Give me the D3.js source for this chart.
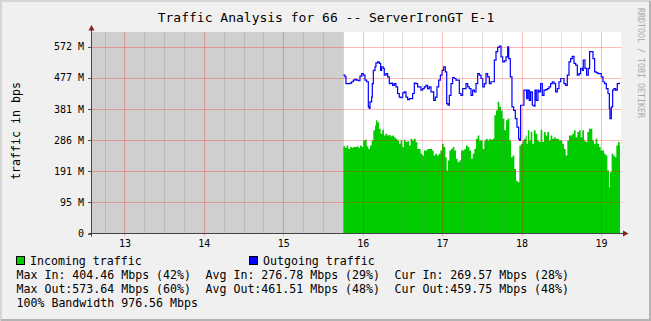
<!DOCTYPE html>
<html><head><meta charset="utf-8">
<script src="https://cdn.jsdelivr.net/npm/d3@7"></script>
<style>html,body{margin:0;padding:0;background:#f0f0f0;}svg{display:block;}</style>
</head><body>
<script>
const title = "Traffic Analysis for 66 -- ServerIronGT E-1";
const yAxisTitle = "traffic in bps";
const watermark = "RRDTOOL / TOBI OETIKER";
const xTicks = [13, 14, 15, 16, 17, 18, 19];
const yTickValues = [0, 95.367, 190.735, 286.102, 381.470, 476.837, 572.205];
const yTickLabels = ["0", "95 M", "191 M", "286 M", "381 M", "477 M", "572 M"];
const dataStart = 15.756, dataEnd = 19.241;
const outTimes = [15.756,15.777,15.790,15.819,15.840,15.861,15.882,15.903,15.924,15.945,15.966,15.987,16.008,16.029,16.050,16.071,16.083,16.092,16.113,16.121,16.134,16.155,16.167,16.189,16.209,16.226,16.239,16.260,16.272,16.293,16.314,16.335,16.356,16.377,16.398,16.419,16.440,16.461,16.482,16.503,16.524,16.545,16.566,16.587,16.608,16.629,16.650,16.671,16.692,16.713,16.734,16.755,16.776,16.797,16.818,16.839,16.860,16.894,16.915,16.936,16.957,16.978,16.999,17.020,17.041,17.058,17.074,17.091,17.112,17.133,17.154,17.175,17.196,17.217,17.238,17.259,17.280,17.301,17.322,17.343,17.364,17.385,17.406,17.427,17.448,17.469,17.490,17.511,17.532,17.553,17.574,17.595,17.616,17.637,17.658,17.679,17.700,17.721,17.742,17.763,17.784,17.805,17.826,17.839,17.859,17.880,17.901,17.922,17.943,17.964,17.977,17.989,18.006,18.031,18.052,18.065,18.081,18.098,18.115,18.136,18.157,18.170,18.186,18.207,18.220,18.241,18.262,18.283,18.304,18.325,18.346,18.367,18.388,18.409,18.430,18.451,18.472,18.493,18.514,18.535,18.556,18.577,18.598,18.619,18.640,18.661,18.682,18.703,18.724,18.745,18.766,18.778,18.799,18.820,18.841,18.858,18.879,18.900,18.921,18.942,18.963,18.984,19.005,19.026,19.047,19.068,19.089,19.106,19.114,19.131,19.148,19.164,19.185,19.206,19.227];
const outValues = [485,480,459,459,461,465,470,472,470,468,482,490,485,470,465,388,383,403,418,459,500,511,523,526,521,500,511,506,485,490,480,459,461,454,459,449,429,418,416,431,434,418,410,413,413,429,461,459,449,449,439,444,449,454,444,449,434,408,418,449,470,485,500,511,495,398,393,423,459,478,475,470,470,429,423,444,444,459,449,444,423,439,434,459,490,485,475,449,459,490,480,459,465,465,531,557,570,574,541,526,529,541,572,536,480,388,377,352,326,290,285,393,393,439,439,413,439,408,434,393,390,439,408,439,434,459,423,439,441,444,449,459,465,459,434,444,465,475,475,459,454,485,526,536,543,521,516,485,490,506,500,531,506,485,506,557,557,536,495,493,490,490,480,465,459,444,429,383,352,388,439,444,439,459,460];
const inTimes = [15.756,15.777,15.798,15.819,15.840,15.861,15.882,15.903,15.924,15.945,15.966,15.987,16.008,16.029,16.050,16.071,16.092,16.113,16.134,16.155,16.167,16.184,16.205,16.226,16.247,16.268,16.289,16.310,16.331,16.352,16.373,16.394,16.415,16.436,16.457,16.478,16.499,16.520,16.541,16.562,16.583,16.604,16.625,16.646,16.667,16.688,16.709,16.730,16.751,16.772,16.793,16.814,16.835,16.856,16.873,16.894,16.915,16.936,16.957,16.978,16.999,17.020,17.041,17.058,17.074,17.091,17.112,17.133,17.154,17.175,17.196,17.217,17.238,17.259,17.280,17.301,17.322,17.343,17.364,17.385,17.406,17.427,17.448,17.469,17.490,17.511,17.532,17.553,17.574,17.595,17.616,17.637,17.658,17.679,17.700,17.721,17.742,17.763,17.784,17.805,17.826,17.847,17.868,17.889,17.910,17.931,17.952,17.973,17.994,18.015,18.031,18.052,18.065,18.081,18.098,18.115,18.136,18.157,18.178,18.199,18.220,18.241,18.262,18.283,18.304,18.325,18.346,18.367,18.388,18.409,18.430,18.451,18.472,18.493,18.514,18.535,18.556,18.577,18.598,18.619,18.640,18.661,18.682,18.703,18.724,18.745,18.766,18.787,18.808,18.829,18.850,18.871,18.892,18.913,18.934,18.955,18.976,18.997,19.018,19.039,19.060,19.081,19.102,19.114,19.135,19.156,19.173,19.194,19.215,19.236];
const inValues = [267,263,270,259,265,263,265,265,267,263,270,265,285,287,267,259,270,285,316,331,347,341,321,306,318,300,306,300,302,298,300,295,290,285,275,285,265,287,280,283,270,290,285,290,280,259,259,244,239,254,254,259,259,259,254,239,244,239,244,254,275,265,234,193,224,254,259,265,254,229,218,224,254,254,259,270,265,254,229,244,259,290,300,285,285,259,285,290,285,290,287,290,362,377,404,388,377,352,316,347,352,285,234,239,198,162,157,270,275,285,290,300,275,316,285,311,275,316,306,285,280,318,280,311,300,311,285,300,290,295,290,290,285,285,275,259,239,285,300,300,306,316,295,311,316,295,316,285,280,311,321,321,285,275,290,275,265,254,254,244,239,193,142,188,244,239,234,270,280,270];
const legendItems = [{label:"Incoming traffic", color:"#00cc00"}, {label:"Outgoing traffic", color:"#0000ff"}];
const statRows = [
  ["Max In: 404.46 Mbps (42%)", "Avg In: 276.78 Mbps (29%)", "Cur In: 269.57 Mbps (28%)"],
  ["Max Out:573.64 Mbps (60%)", "Avg Out:461.51 Mbps (48%)", "Cur Out:459.75 Mbps (48%)"],
  ["100% Bandwidth 976.56 Mbps"]
];

const W = 651, H = 321;
const mono = "'DejaVu Sans Mono', 'Liberation Mono', monospace";
const svg = d3.select("body").append("svg").attr("width", W).attr("height", H);
svg.append("rect").attr("width", W).attr("height", H).attr("fill", "#f0f0f0");
// frame
svg.append("path").attr("d", `M1,${H} V1 H${W}`).attr("stroke", "#d6d6d6").attr("stroke-width", 2).attr("fill", "none");
svg.append("path").attr("d", `M1,${H-1} H${W-1} V1`).attr("stroke", "#b4b4b4").attr("stroke-width", 2).attr("fill", "none");

const x = d3.scaleLinear().domain([12.585, 19.253]).range([91.5, 621]);
const y = d3.scaleLinear().domain([0, 617.4]).range([233.5, 32]);
const [px0, px1] = x.range(), [py0, py1] = y.range();

svg.append("rect").attr("x", px0).attr("y", py1).attr("width", px1 - px0).attr("height", py0 - py1).attr("fill", "#ffffff");
svg.append("rect").attr("x", px0).attr("y", py1).attr("width", x(dataStart) - px0).attr("height", py0 - py1).attr("fill", "#cfcfcf");

const inData = inTimes.map((t, i) => [t, inValues[i]]).concat([[dataEnd, inValues[inValues.length - 1]]]);
const outData = outTimes.map((t, i) => [t, outValues[i]]).concat([[dataEnd, outValues[outValues.length - 1]]]);

svg.append("path").datum(inData)
  .attr("d", d3.area().curve(d3.curveStepAfter).x(d => x(d[0])).y0(y(0)).y1(d => y(d[1])))
  .attr("fill", "#00cc00");
svg.append("path").datum(outData)
  .attr("d", d3.line().curve(d3.curveStepAfter).x(d => x(d[0])).y(d => y(d[1])))
  .attr("fill", "none").attr("stroke", "#0000ff").attr("stroke-width", 1.2);

// minor vertical grid
const minor = d3.range(12.75, 19.25, 0.25).filter(v => Math.abs(v - Math.round(v)) > 0.01);
svg.append("g").selectAll("line").data(minor).join("line")
  .attr("x1", d => Math.round(x(d)) + 0.5).attr("x2", d => Math.round(x(d)) + 0.5)
  .attr("y1", py1).attr("y2", py0)
  .attr("stroke", "rgba(128,128,128,0.25)").attr("stroke-width", 1);
// major vertical grid
svg.append("g").selectAll("line").data(xTicks).join("line")
  .attr("x1", d => Math.round(x(d)) + 0.5).attr("x2", d => Math.round(x(d)) + 0.5)
  .attr("y1", py1).attr("y2", py0 + 3)
  .attr("stroke", "rgba(255,0,0,0.27)").attr("stroke-width", 1);
// horizontal grid
svg.append("g").selectAll("line").data(yTickValues.slice(1)).join("line")
  .attr("x1", px0).attr("x2", px1)
  .attr("y1", d => Math.round(y(d)) + 0.5).attr("y2", d => Math.round(y(d)) + 0.5)
  .attr("stroke", "rgba(255,0,0,0.27)").attr("stroke-width", 1);
// y tick marks
svg.append("g").selectAll("line").data(yTickValues).join("line")
  .attr("x1", px0 - 3.5).attr("x2", px0)
  .attr("y1", d => Math.round(y(d)) + 0.5).attr("y2", d => Math.round(y(d)) + 0.5)
  .attr("stroke", "#555").attr("stroke-width", 1);

// axes
const axisColor = "#444", arrowColor = "#8a2020";
svg.append("line").attr("x1", px0).attr("x2", px0).attr("y1", py0 + 3).attr("y2", 29).attr("stroke", axisColor).attr("stroke-width", 1);
svg.append("line").attr("x1", px0 - 3).attr("x2", 624).attr("y1", py0).attr("y2", py0).attr("stroke", axisColor).attr("stroke-width", 1);
svg.append("path").attr("d", `M${px0},25 L${px0 - 3},30.5 L${px0 + 3},30.5 Z`).attr("fill", arrowColor);
svg.append("path").attr("d", `M628.5,${py0} L623,${py0 - 3} L623,${py0 + 3} Z`).attr("fill", arrowColor);

// tick labels
svg.append("g").selectAll("text").data(yTickValues).join("text")
  .attr("x", 84).attr("y", d => y(d) + 3.5).attr("text-anchor", "end")
  .attr("font-family", mono).attr("font-size", "10px").attr("fill", "#000")
  .text((d, i) => yTickLabels[i]);
svg.append("g").selectAll("text").data(xTicks).join("text")
  .attr("x", d => x(d) + 0.5).attr("y", 247).attr("text-anchor", "middle")
  .attr("font-family", mono).attr("font-size", "10px").attr("fill", "#000")
  .text(d => d);

// title
svg.append("text").attr("x", 326).attr("y", 22).attr("text-anchor", "middle")
  .attr("font-family", mono).attr("font-size", "13px").attr("fill", "#000").text(title);
// y axis title
svg.append("text").attr("transform", "translate(20,131) rotate(-90)").attr("text-anchor", "middle")
  .attr("font-family", mono).attr("font-size", "11.6px").attr("fill", "#000").text(yAxisTitle);
// watermark
svg.append("text").attr("transform", "translate(638,8) rotate(90)").attr("text-anchor", "start")
  .attr("font-family", mono).attr("font-size", "8.3px").attr("fill", "#aaaaaa").text(watermark);

// legend
const legX = [16.5, 249.5];
legendItems.forEach((it, i) => {
  svg.append("rect").attr("x", legX[i]).attr("y", 256.5).attr("width", 8).attr("height", 8)
    .attr("fill", it.color).attr("stroke", "#000").attr("stroke-width", 1);
  svg.append("text").attr("x", legX[i] + 13.5).attr("y", 265).attr("font-family", mono)
    .attr("font-size", "11.6px").attr("fill", "#000").text(it.label);
});
const colX = [16.5, 205.5, 394.5];
statRows.forEach((row, r) => {
  row.forEach((s, c) => {
    svg.append("text").attr("x", colX[c]).attr("y", 279 + r * 13.8).attr("font-family", mono)
      .attr("font-size", "11.6px").attr("fill", "#000").attr("xml:space", "preserve").style("white-space", "pre").text(s);
  });
});
</script>
</body></html>
